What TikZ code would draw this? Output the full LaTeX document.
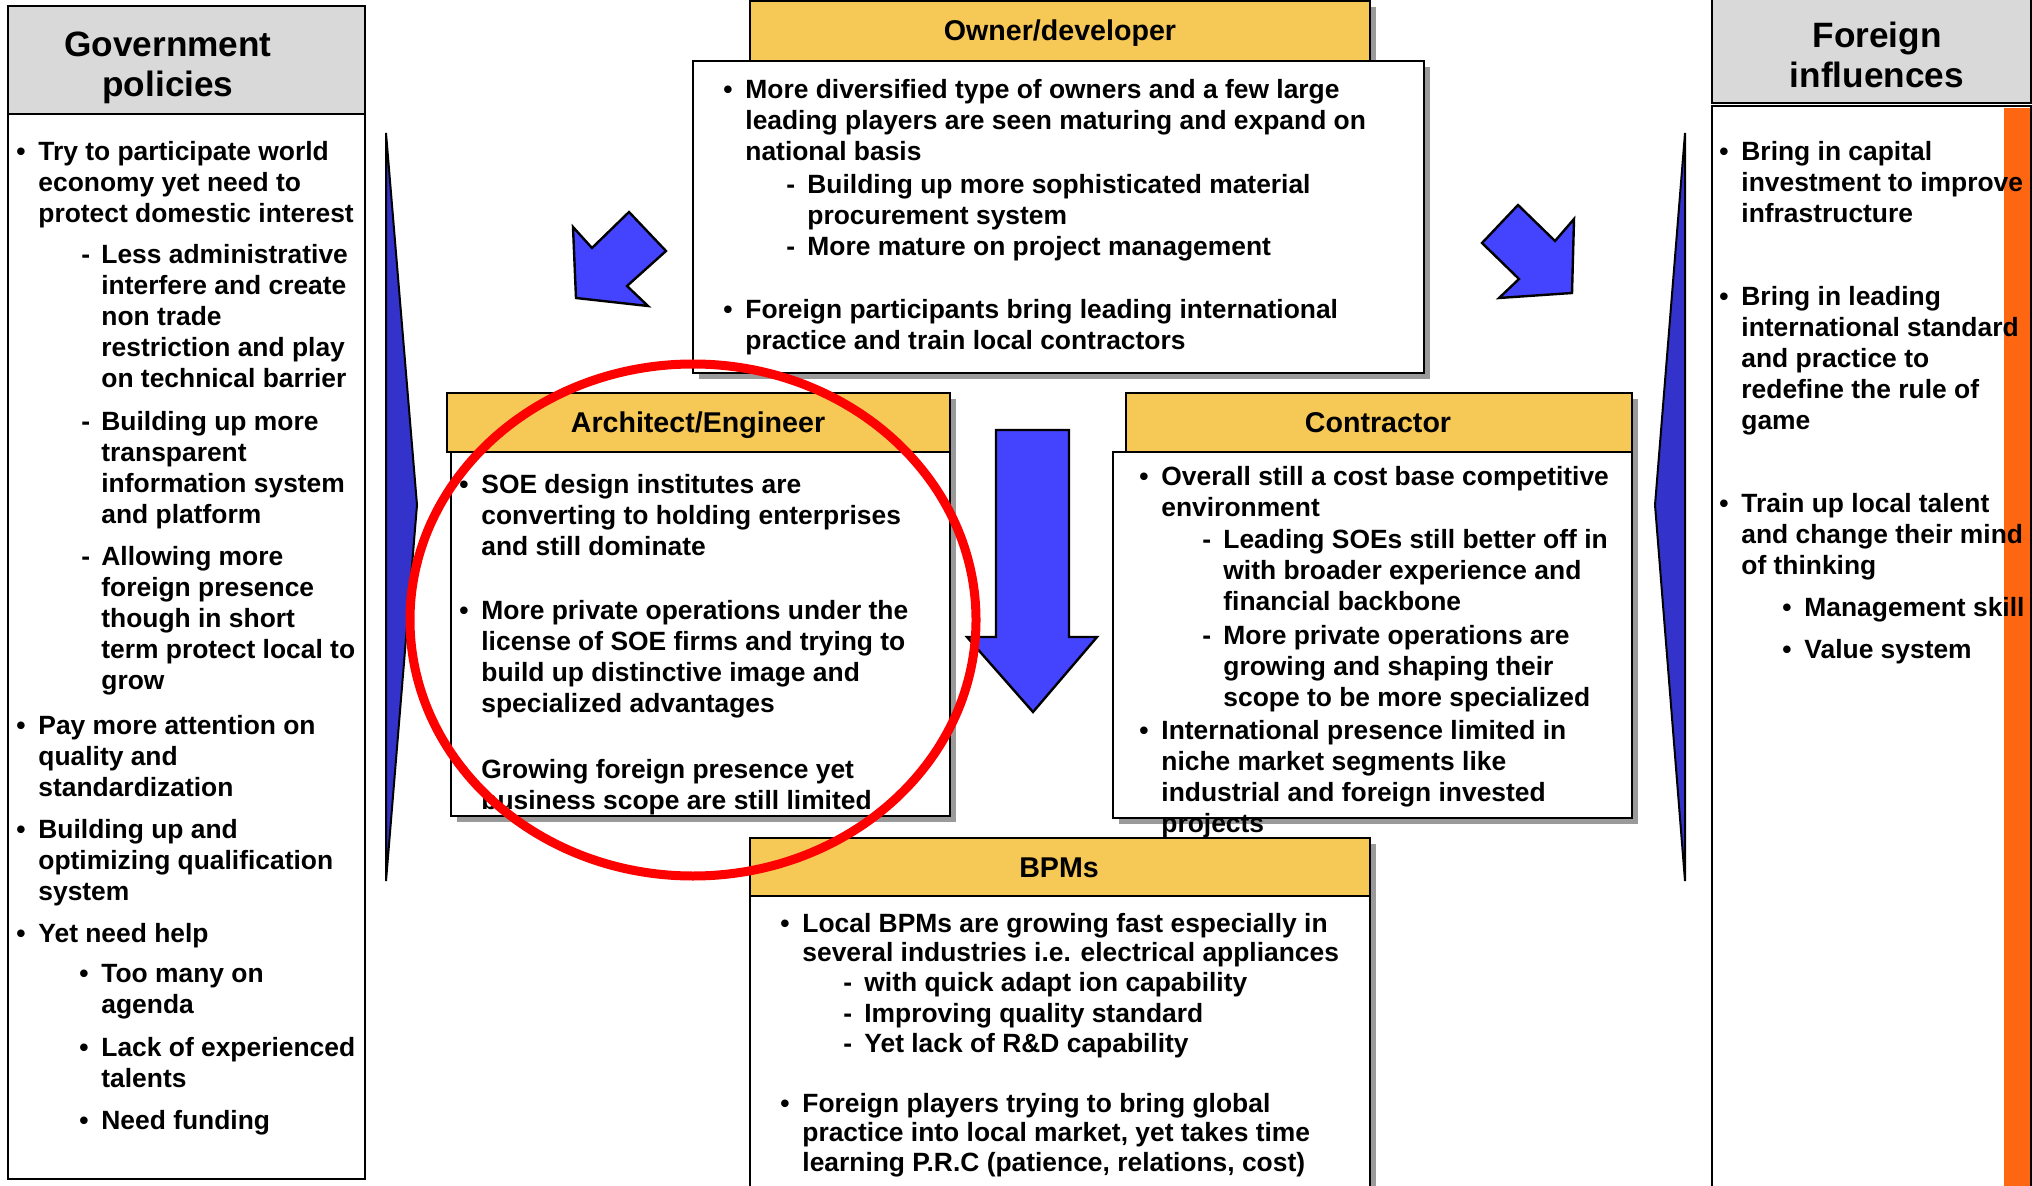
\documentclass[tikz,border=0pt]{standalone}
\usepackage{fontspec}
\setmainfont{Liberation Sans}
\definecolor{hdryel}{HTML}{F6C855}
\definecolor{hdrgray}{HTML}{D9D9D9}
\definecolor{arrblue}{HTML}{4444FF}
\definecolor{triblue}{HTML}{3333CC}
\definecolor{orng}{HTML}{FF6611}
\definecolor{shad}{HTML}{9A9A9A}
\newcommand{\itm}[3]{\llap{\makebox[#2][l]{#1}}\begin{tabular}[t]{@{}l@{}}#3\end{tabular}}
\newcommand{\bul}{\textbullet}
\newcommand{\shbox}[5]{\fill[shad] ({#1+6},{#2+6}) rectangle ({#3+6},{#4+6}); \draw[#5] (#1,#2) rectangle (#3,#4);}
\begin{document}
\begin{tikzpicture}[x=0.5pt,y=-0.5pt,
  wbox/.style={draw=black,line width=1pt,fill=white},
  ybox/.style={draw=black,line width=1pt,fill=hdryel},
  gbox/.style={draw=black,line width=1pt,fill=hdrgray},
  txt/.style={inner sep=0pt,anchor=base west,font=\fontsize{13.2}{15.5}\selectfont\bfseries},
  txtb/.style={inner sep=0pt,anchor=base west,font=\fontsize{13.2}{14.9}\selectfont\bfseries},
  ttl/.style={inner sep=0pt,anchor=base,font=\fontsize{14.3}{16}\selectfont\bfseries},
  bigttl/.style={inner sep=0pt,anchor=base,font=\fontsize{17.6}{19.8}\selectfont\bfseries},
  barrow/.style={draw=black,line width=1.2pt,fill=arrblue,line join=miter},
  tri/.style={draw=black,line width=1pt,fill=triblue},
  redring/.style={draw=red,line width=4.5pt}
]
\useasboundingbox (0,0) rectangle (2032,1186);
\fill[white] (0,0) rectangle (2032,1186);

% ---- Government policies panel
\draw[gbox] (8,6) rectangle (365,114);
\draw[wbox] (8,114) rectangle (365,1179);
\node[bigttl] (govt) at (168,57) {\begin{tabular}[t]{@{}c@{}}Government\\policies\end{tabular}};

% ---- Foreign influences panel
\draw[gbox] (1712,-4) rectangle (2031,103);
\draw[wbox] (1712,106) rectangle (2031,1192);
\fill[orng] (2004,108) rectangle (2030,1186);
\node[bigttl] (fort) at (1877,48) {\begin{tabular}[t]{@{}c@{}}Foreign\\influences\end{tabular}};

% ---- side triangles
\draw[tri] (386,133) -- (417,505) -- (386,881) -- cycle;
\draw[tri] (1685,133) -- (1655,505) -- (1685,881) -- cycle;

% ---- Owner/developer
\shbox{750}{1}{1370}{61}{ybox}
\shbox{693}{61}{1424}{373}{wbox}
\node[ttl] (ownt) at (1060,41) {Owner/developer};

% ---- Architect/Engineer
\shbox{447}{393}{950}{452}{ybox}
\shbox{451}{452}{950}{816}{wbox}
\node[ttl] (arct) at (698,433) {Architect/Engineer};

% ---- Contractor
\shbox{1126}{393}{1632}{452}{ybox}
\shbox{1113}{452}{1632}{818}{wbox}
\node[ttl] (cont) at (1378,433) {Contractor};

% ---- BPMs
\shbox{750}{838}{1370}{896}{ybox}
\shbox{750}{896}{1370}{1200}{wbox}
\node[ttl] (bpmt) at (1059,877) {BPMs};

% ---- blue arrows
\draw[barrow] (576,298) -- (573,227) -- (592,248) -- (629,212) -- (666,251) -- (627,286) -- (648,306) -- cycle;
\draw[barrow] (1572,293) -- (1499,298) -- (1519,279) -- (1482,243) -- (1518,205) -- (1555,241) -- (1574,219) -- cycle;
\draw[barrow] (996,430) -- (1069,430) -- (1069,637) -- (1097,637) -- (1033,712) -- (967,637) -- (996,637) -- cycle;

% ---- Government text
\node[txt] (g1) at (38,161) {\itm{\bul}{11pt}{Try to participate world\\economy yet need to\\protect domestic interest}};
\node[txt] (g2) at (101,264) {\itm{-}{10pt}{Less administrative\\interfere and create\\non trade\\restriction and play\\on technical barrier}};
\node[txt] (g3) at (101,431) {\itm{-}{10pt}{Building up more\\transparent\\information system\\and platform}};
\node[txt] (g4) at (101,566) {\itm{-}{10pt}{Allowing more\\foreign presence\\though in short\\term protect local to\\grow}};
\node[txt] (g5) at (38,734) {\itm{\bul}{11pt}{Pay more attention on\\quality and\\standardization}};
\node[txt] (g6) at (38,838) {\itm{\bul}{11pt}{Building up and\\optimizing qualification\\system}};
\node[txt] (g7) at (38,942) {\itm{\bul}{11pt}{Yet need help}};
\node[txt] (g8) at (101,982) {\itm{\bul}{11pt}{Too many on\\agenda}};
\node[txt] (g9) at (101,1056) {\itm{\bul}{11pt}{Lack of experienced\\talents}};
\node[txt] (g10) at (101,1129) {\itm{\bul}{11pt}{Need funding}};

% ---- Owner text
\node[txt] (o1) at (745,99) {\itm{\bul}{11pt}{More diversified type of owners and a few large\\leading players are seen maturing and expand on\\national basis}};
\node[txt] (o2) at (807,194) {\itm{-}{10.5pt}{Building up more sophisticated material\\procurement system}};
\node[txt] (o3) at (807,256) {\itm{-}{10.5pt}{More mature on project management}};
\node[txt] (o4) at (745,319) {\itm{\bul}{11pt}{Foreign participants bring leading international\\practice and train local contractors}};

% ---- Architect text
\node[txt] (a1) at (481,494) {\itm{\bul}{11pt}{SOE design institutes are\\converting to holding enterprises\\and still dominate}};
\node[txt] (a2) at (481,619) {\itm{\bul}{11pt}{More private operations under the\\license of SOE firms and trying to\\build up distinctive image and\\specialized advantages}};
\node[txt] (a3) at (481,778) {\itm{\bul}{11pt}{Growing foreign presence yet\\business scope are still limited}};

% ---- Contractor text
\node[txt] (c1) at (1161,486) {\itm{\bul}{11pt}{Overall still a cost base competitive\\environment}};
\node[txt] (c2) at (1223,549) {\itm{-}{10.5pt}{Leading SOEs still better off in\\with broader experience and\\financial backbone}};
\node[txt] (c3) at (1223,644) {\itm{-}{10.5pt}{More private operations are\\growing and shaping their\\scope to be more specialized}};
\node[txt] (c4) at (1161,739) {\itm{\bul}{11pt}{International presence limited in\\niche market segments like\\industrial and foreign invested\\projects}};

% ---- BPMs text
\node[txtb] (b1) at (802,932) {\itm{\bul}{11pt}{Local BPMs are growing fast especially in\\several industries i.e. electrical appliances}};
\node[txtb] (b2) at (864,991) {\itm{-}{10.5pt}{with quick adapt ion capability}};
\node[txtb] (b3) at (864,1022) {\itm{-}{10.5pt}{Improving quality standard}};
\node[txtb] (b4) at (864,1052) {\itm{-}{10.5pt}{Yet lack of R\&D capability}};
\node[txtb] (b5) at (802,1112) {\itm{\bul}{11pt}{Foreign players trying to bring global\\practice into local market, yet takes time\\learning P.R.C (patience, relations, cost)}};

% ---- Foreign text
\node[txt] (f1) at (1741,161) {\itm{\bul}{11pt}{Bring in capital\\investment to improve\\infrastructure}};
\node[txt] (f2) at (1741,306) {\itm{\bul}{11pt}{Bring in leading\\international standard\\and practice to\\redefine the rule of\\game}};
\node[txt] (f3) at (1741,513) {\itm{\bul}{11pt}{Train up local talent\\and change their mind\\of thinking}};
\node[txt] (f4) at (1804,617) {\itm{\bul}{11pt}{Management skill}};
\node[txt] (f5) at (1804,658) {\itm{\bul}{11pt}{Value system}};

% ---- red ring
\draw[redring] (693,620) ellipse [x radius=141.5pt, y radius=128pt];
\end{tikzpicture}
\end{document}
